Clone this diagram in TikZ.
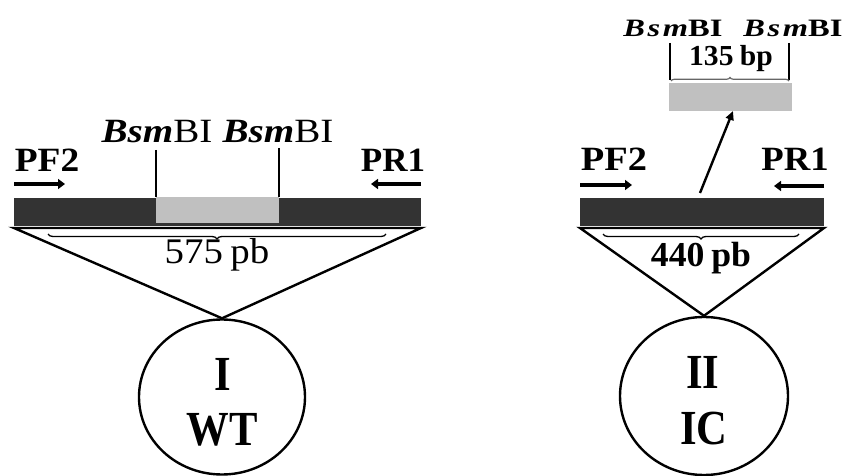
\documentclass[tikz,border=0pt]{standalone}
\usepackage{fontspec}
\setmainfont{Liberation Serif}
\usetikzlibrary{shapes.geometric,arrows.meta,decorations.pathreplacing}
\definecolor{darkbar}{HTML}{333333}
\definecolor{lightbar}{HTML}{C0C0C0}
\begin{document}
\begin{tikzpicture}[x=1pt,y=-1pt,
  dnabar/.style={fill=darkbar,draw=none,minimum height=28pt,inner sep=0pt,outer sep=0pt,anchor=north west},
  insert/.style={fill=lightbar,draw=none,inner sep=0pt,outer sep=0pt,anchor=north west},
  bigcirc/.style={ellipse,draw,line width=2.4pt,inner sep=0pt},
  lbl/.style={inner sep=0pt,anchor=base},
  primer/.style={line width=3.8pt,-{Triangle[length=7pt,width=10pt]}},
  tri/.style={line width=2.4pt,line join=miter},
  tick/.style={line width=1.6pt},
  bracel/.style={decorate,decoration={brace,amplitude=5pt},line width=1.3pt},
]
\useasboundingbox (0,0) rectangle (847,476);

% ---------------- Left panel ----------------
\node[dnabar,minimum width=407pt] (barL) at (14,198) {};
\node[insert,minimum width=123pt,minimum height=26pt] (insL) at (156,197) {};
\coordinate (triLa) at (14,228);
\coordinate (triLb) at (421,228);
\node[bigcirc,minimum width=166pt,minimum height=155pt] (cL) at (222,397) {};
\draw[tri] (triLa) -- (triLb) -- (cL.north) -- cycle;
\draw[bracel,decoration={mirror}] (48,234) coordinate (brLa) -- (386,234) coordinate (brLb);
\node[lbl,font=\fontsize{36}{36}\selectfont,xscale=1.08] (sizeL) at (217,264) {575\kern-2pt\ pb};

\coordinate (tkLa) at (156,150);
\coordinate (tkLb) at (279,148);
\draw[tick] (tkLa) -- (tkLa |- insL.north);
\draw[tick] (tkLb) -- (tkLb |- insL.north);
\node[lbl,font=\fontsize{34}{34}\selectfont,xscale=1.15] (bsmL1) at (157,143) {\textbf{\textit{Bsm}}BI};
\node[lbl,font=\fontsize{34}{34}\selectfont,xscale=1.15] (bsmL2) at (278,143) {\textbf{\textit{Bsm}}BI};

\node[lbl,font=\bfseries\fontsize{34}{34}\selectfont,xscale=1.1] (pf2L) at (47,172) {PF2};
\node[lbl,font=\bfseries\fontsize{34}{34}\selectfont,xscale=1.03] (pr1L) at (393,172) {PR1};
\coordinate (pfLa) at (14,184);
\coordinate (pfLb) at (65,184);
\draw[primer] (pfLa) -- (pfLb);
\coordinate (prLa) at (421,184);
\coordinate (prLb) at (371,184);
\draw[primer] (prLa) -- (prLb);

\node[lbl,font=\bfseries\fontsize{49}{49}\selectfont,xscale=0.87] (numL) at (223,390) {I};
\node[lbl,font=\bfseries\fontsize{49}{49}\selectfont,xscale=0.87] (typL) at (222,445) {WT};

% ---------------- Right panel ----------------
\node[dnabar,minimum width=244pt] (barR) at (580,198) {};
\coordinate (triRa) at (580,228);
\coordinate (triRb) at (824,228);
\node[bigcirc,minimum width=168pt,minimum height=158pt] (cR) at (704,396) {};
\draw[tri] (triRa) -- (triRb) -- (cR.north) -- cycle;
\draw[bracel,decoration={mirror}] (603,234) coordinate (brRa) -- (799,234) coordinate (brRb);
\node[lbl,font=\bfseries\fontsize{35}{35}\selectfont,xscale=1.02] (sizeR) at (701,266) {440\kern-2pt\ pb};

\node[lbl,font=\bfseries\fontsize{34}{34}\selectfont,xscale=1.13] (pf2R) at (614,171) {PF2};
\node[lbl,font=\bfseries\fontsize{34}{34}\selectfont,xscale=1.08] (pr1R) at (795,171) {PR1};
\coordinate (pfRa) at (580,185);
\coordinate (pfRb) at (632,185);
\draw[primer] (pfRa) -- (pfRb);
\coordinate (prRa) at (824,186);
\coordinate (prRb) at (774,186);
\draw[primer] (prRa) -- (prRb);

\node[insert,minimum width=123pt,minimum height=28pt] (insR) at (669,83) {};
\coordinate (arrS) at (700,193);
\draw[line width=2.4pt,-{Triangle[length=9pt,width=8pt]}] (arrS) -- (733,111) coordinate (arrE);

\coordinate (tkRa) at (670,43);
\coordinate (tkRb) at (789,43);
\draw[tick] (tkRa) -- (670,80);
\draw[tick] (tkRb) -- (789,80);
\draw[bracel,draw=gray!80!black,line width=1.2pt,decoration={amplitude=3.5pt}] (671,81) coordinate (brSa) -- (789,81) coordinate (brSb);
\node[lbl,font=\bfseries\fontsize{29}{29}\selectfont,xscale=1.02] (sizeS) at (731,66) {135\kern-1pt\ bp};
\node[lbl,font=\bfseries\fontsize{25}{25}\selectfont,xscale=1.3] (bsmR1) at (673,37) {\textit{B\kern2pt s\kern2pt m}BI};
\node[lbl,font=\bfseries\fontsize{25}{25}\selectfont,xscale=1.3] (bsmR2) at (793,37) {\textit{B\kern2pt s\kern2pt m}BI};

\node[lbl,font=\bfseries\fontsize{49}{49}\selectfont,xscale=0.87] (numR) at (703,388) {II};
\node[lbl,font=\bfseries\fontsize{49}{49}\selectfont,xscale=0.87] (typR) at (704,444) {IC};
\end{tikzpicture}
\end{document}
